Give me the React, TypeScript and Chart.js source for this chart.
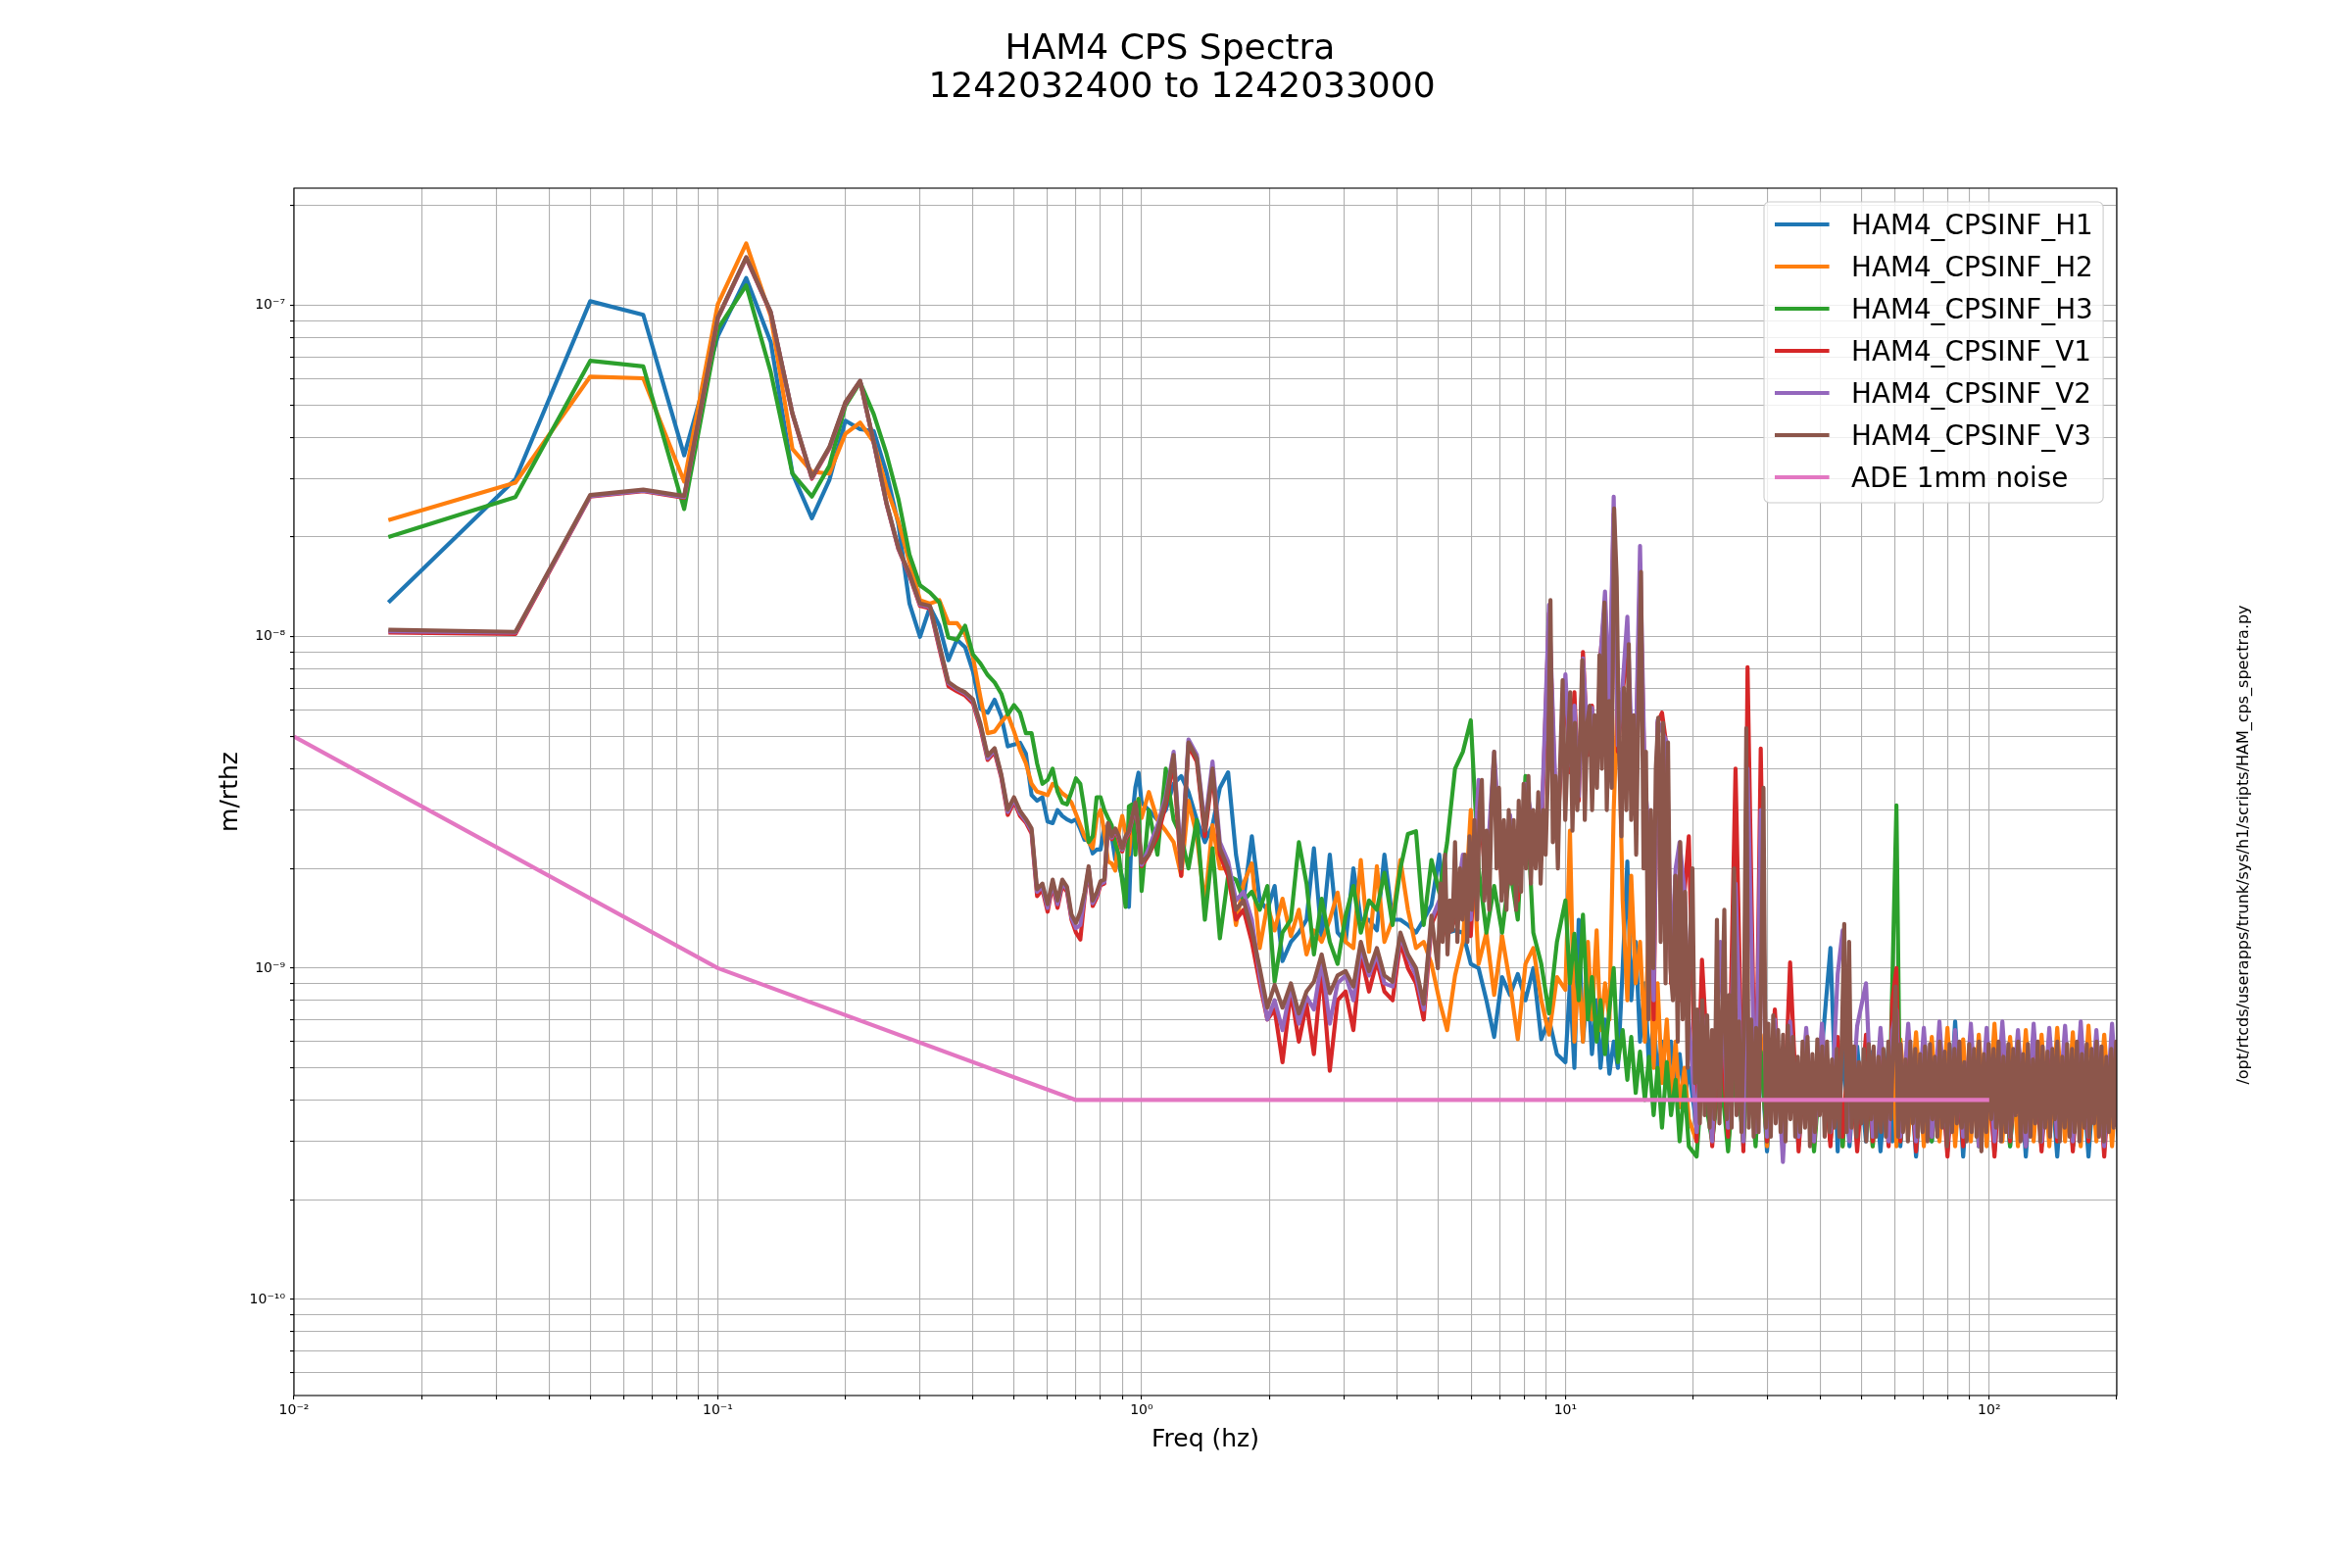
import React, { useEffect, useRef } from "react";
import { Chart, registerables } from "chart.js";

Chart.register(...registerables);

const FONT = '"DejaVu Sans", "Liberation Sans", sans-serif';

// ---------- text ----------
const TITLE_LINES = ["HAM4 CPS Spectra", "1242032400 to 1242033000"];
const X_LABEL = "Freq (hz)";
const Y_LABEL = "m/rthz";
const SIDE_TEXT = "/opt/rtcds/userapps/trunk/sys/h1/scripts/HAM_cps_spectra.py";
const SERIES_NAMES = [
  "HAM4_CPSINF_H1",
  "HAM4_CPSINF_H2",
  "HAM4_CPSINF_H3",
  "HAM4_CPSINF_V1",
  "HAM4_CPSINF_V2",
  "HAM4_CPSINF_V3",
  "ADE 1mm noise",
];
const SERIES_COLORS = ["#1f77b4", "#ff7f0e", "#2ca02c", "#d62728", "#9467bd", "#8c564b", "#e377c2"];

// ---------- axes ----------
const X_MIN = 0.01;
const X_MAX = 200;
const Y_MIN = 5.13e-11;
const Y_MAX = 2.26e-7;
const X_DECADES = [-2, -1, 0, 1, 2];
const X_TICK_LABELS = ["10\u207B\u00B2", "10\u207B\u00B9", "10\u2070", "10\u00B9", "10\u00B2"];
const Y_DECADES = [-11, -10, -9, -8, -7];
const Y_TICK_LABELS = ["10\u207B\u00B9\u00B9", "10\u207B\u00B9\u2070", "10\u207B\u2079", "10\u207B\u2078", "10\u207B\u2077"];
const MANTISSAS = [1, 2, 3, 4, 5, 6, 7, 8, 9];

// ---------- data (values in units of 1e-10 m/rthz) ----------
const UNIT = 1e-10;

const LF_FREQ = [
  0.0167, 0.0333, 0.05, 0.0667, 0.0833, 0.1, 0.1167, 0.1333, 0.15, 0.1667,
  0.1833, 0.2, 0.2167, 0.2333, 0.25, 0.2667, 0.2833, 0.3, 0.3167, 0.3333,
  0.35, 0.3667, 0.3833, 0.4, 0.4167, 0.4333, 0.45, 0.4667, 0.4833, 0.5,
  0.5167, 0.5333, 0.55, 0.5667, 0.5833, 0.6, 0.6167, 0.6333, 0.65, 0.6667,
  0.6833, 0.7, 0.7167, 0.7333, 0.75, 0.7667, 0.7833, 0.8, 0.8167, 0.8333,
  0.85, 0.8667, 0.8833, 0.9, 0.9167, 0.9333, 0.95, 0.9667, 0.9833, 1.0,
];

const MID_FREQ = [
  1.04, 1.09, 1.14, 1.19, 1.24, 1.29, 1.35, 1.41, 1.47, 1.53,
  1.6, 1.67, 1.74, 1.82, 1.9, 1.98, 2.06, 2.15, 2.25, 2.35,
  2.45, 2.55, 2.66, 2.78, 2.9, 3.03, 3.16, 3.29, 3.44, 3.59,
  3.74, 3.91, 4.08, 4.25, 4.44, 4.63, 4.83, 5.04, 5.26, 5.49,
  5.73, 5.98, 6.24, 6.51, 6.79, 7.09, 7.4, 7.72, 8.05, 8.4,
  8.77, 9.15, 9.55,
  10.0, 10.25, 10.5, 10.75, 11.0, 11.3, 11.55, 11.85, 12.1, 12.4,
  12.7, 13.0, 13.3, 13.65, 14.0, 14.3, 14.65, 15.0, 15.4, 15.75,
  16.15, 16.5, 16.9, 17.35, 17.75, 18.2, 18.6, 19.1, 19.55,
];

const HF_FREQ = [
  20.4, 21.0, 22.2, 23.2, 24.2, 25.2, 26.3, 26.9, 28.1, 28.9,
  29.9, 31.2, 32.6, 33.9, 35.5, 37.0, 38.6, 40.3, 42.2, 43.9,
  45.1, 46.8, 48.8, 51.2, 53.1, 55.4, 57.9, 59.1, 60.4, 61.7,
  64.4, 67.2, 70.1, 73.2, 76.3, 79.7, 83.1, 86.8, 90.5, 94.5,
  98.6, 102.9, 107.4, 112.0, 116.9, 122.0, 127.3, 132.9, 138.6, 144.7,
  151.0, 157.5, 164.4, 171.5, 179.0, 186.8, 194.9, 203,
];

// finer sampling used for V3 above 5 Hz (it is drawn on top and forms the dense band)
const DENSE_FREQ_V3 = [
  5.0, 5.07, 5.13, 5.2, 5.27, 5.34, 5.41, 5.49, 5.56, 5.64,
  5.71, 5.79, 5.87, 5.94, 6.02, 6.1, 6.19, 6.27, 6.35, 6.44,
  6.52, 6.61, 6.7, 6.79, 6.88, 6.97, 7.07, 7.16, 7.26, 7.35,
  7.45, 7.55, 7.65, 7.76, 7.86, 7.97, 8.07, 8.18, 8.29, 8.4,
  8.51, 8.63, 8.74, 8.86, 8.98, 9.1, 9.22, 9.34, 9.47, 9.6,
  9.72, 9.85, 9.99, 10.12, 10.26, 10.39, 10.53, 10.67, 10.82, 10.96,
  11.11, 11.26, 11.41, 11.56, 11.72, 11.87, 12.03, 12.19, 12.36, 12.52,
  12.69, 12.86, 13.03, 13.21, 13.38, 13.56, 13.74, 13.93, 14.11, 14.3,
  14.49, 14.69, 14.89, 15.08, 15.29, 15.49, 15.7, 15.91, 16.12, 16.34,
  16.56, 16.78, 17.0, 17.23, 17.46, 17.69, 17.93, 18.17, 18.41, 18.66,
  18.91, 19.16, 19.42, 19.68, 19.94, 20.21, 20.48, 20.76, 21.03, 21.31,
  21.6, 21.89, 22.18, 22.48, 22.78, 23.09, 23.4, 23.71, 24.03, 24.35,
  24.67, 25.0, 25.34, 25.68, 26.02, 26.37, 26.72, 27.08, 27.44, 27.81,
  28.18, 28.56, 28.94, 29.33, 29.72, 30.12, 30.52, 30.93, 31.34, 31.76,
  32.19, 32.62, 33.06, 33.5, 33.95, 34.4, 34.86, 35.33, 35.8, 36.28,
  36.77, 37.26, 37.76, 38.26, 38.78, 39.3, 39.82, 40.36, 40.9, 41.44,
  42.0, 42.56, 43.13, 43.71, 44.29, 44.89, 45.49, 46.1, 46.71, 47.34,
  47.97, 48.62, 49.27, 49.93, 50.6, 51.27, 51.96, 52.66, 53.36, 54.08,
  54.8, 55.53, 56.28, 57.03, 57.8, 58.57, 59.35, 60.15, 60.96, 61.77,
  62.6, 63.44, 64.29, 65.15, 66.02, 66.91, 67.8, 68.71, 69.63, 70.56,
  71.51, 72.47, 73.44, 74.42, 75.42, 76.43, 77.45, 78.49, 79.54, 80.61,
  81.69, 82.78, 83.89, 85.02, 86.16, 87.31, 88.48, 89.67, 90.87, 92.09,
  93.32, 94.57, 95.84, 97.12, 98.42, 99.74, 101.08, 102.43, 103.81, 105.2,
  106.61, 108.04, 109.48, 110.95, 112.44, 113.94, 115.47, 117.02, 118.59, 120.17,
  121.78, 123.42, 125.07, 126.75, 128.45, 130.17, 131.91, 133.68, 135.47, 137.29,
  139.13, 140.99, 142.88, 144.8, 146.74, 148.7, 150.7, 152.72, 154.76, 156.84,
  158.94, 161.07, 163.23, 165.41, 167.63, 169.88, 172.15, 174.46, 176.8, 179.17,
  181.57, 184.0, 186.47, 188.97, 191.5, 194.06, 196.66, 199.3, 201.97, 204.68,
];

// H1
const H1_LF = [
  127, 299, 1030, 937, 353, 807, 1210, 776, 311, 228,
  297, 449, 423, 418, 313, 219, 126, 100, 123, 108,
  85, 98, 93, 78.7, 60.6, 59, 64.6, 57.5, 46.7, 47.3,
  47.9, 44.4, 33.3, 32, 32.8, 27.7, 27.4, 30, 28.8, 28.1,
  27.7, 28.1, 26.3, 24.4, 24.4, 22.2, 22.8, 22.8, 26.7, 25.7,
  25, 21.3, 20.5, 18.8, 17.8, 15.3, 28.4, 35.1, 38.9, 31.6,
];
const H1_MID = [
  30, 28, 30, 36, 38, 34, 28, 24, 27, 35,
  39, 22, 16, 25, 16, 15, 17.7, 10.5, 12, 12.8,
  14, 23, 12.3, 22, 12.8, 12, 20, 14, 14, 13,
  22, 14, 14, 13.5, 12.8, 14, 15.5, 22, 12.8, 13,
  12.8, 10.3, 10, 8, 6.2, 9.4, 8.3, 9.6, 8, 10,
  6.1, 7, 5.5,
  5.2, 9, 5, 14, 6, 9, 5.5, 8, 5, 7,
  4.8, 6, 5, 10, 21, 8, 12, 6, 9, 5,
  7, 4.8, 6, 4.5, 6, 4.2, 5.5, 4, 5,
];
const H1_HF = [
  3.3, 5.5, 3.0, 5.8, 3.1, 5.9, 2.9, 6.0, 3.0, 5.7,
  2.8, 5.9, 3.0, 5.6, 2.9, 5.8, 3.0, 5.7, 11.5, 2.8,
  5.9, 2.9, 5.8, 3.0, 5.6, 2.8, 5.9, 3.0, 5.8, 2.9,
  5.9, 2.7, 5.7, 3.0, 5.8, 2.8, 6.9, 2.7, 5.9, 3.0,
  5.8, 2.8, 5.7, 2.9, 5.9, 2.7, 5.8, 3.0, 5.6, 2.7,
  5.9, 2.9, 5.8, 2.7, 5.7, 3.0, 5.8, 2.8,
];

// H2
const H2_LF = [
  225, 292, 610, 603, 294, 1010, 1540, 930, 369, 315,
  311, 410, 443, 387, 283, 223, 168, 129, 126, 129,
  110, 110, 102, 87, 65.5, 51.2, 51.8, 55.3, 58.3, 51.8,
  45.5, 41.5, 36, 34.1, 33.7, 33.3, 36, 35.1, 33.7, 32.9,
  31.6, 29.2, 27, 25, 24, 23, 28.4, 30, 25.7, 21,
  20.7, 19.7, 25.7, 28.8, 25.7, 22, 27.7, 30, 32.4, 28.4,
];
const H2_MID = [
  34, 28, 26, 24, 19, 32, 25, 15.5, 27, 20,
  20, 13.5, 18, 20.7, 11.5, 15.5, 13, 16.2, 12.5, 15,
  11, 13, 12, 14, 16.9, 12, 11.5, 21.2, 11.2, 20.3,
  12, 14, 21.2, 15, 11.5, 12, 10.3, 8, 6.5, 9.5,
  12, 30, 10.3, 12.8, 8.3, 12.5, 9, 6.1, 10.3, 11.5,
  8, 6.3, 9.4,
  8.6, 26, 6, 10, 6, 12, 7, 13, 6.5, 9,
  7, 30, 70, 16, 8, 19, 9, 12, 6, 14,
  5, 9, 4.5, 7, 4, 6, 3.8, 5, 3.5,
];
const H2_HF = [
  3.0, 6.4, 3.1, 6.2, 2.9, 6.5, 3.0, 6.0, 3.1, 6.3,
  2.9, 6.1, 3.0, 6.4, 3.1, 6.0, 2.9, 6.3, 3.0, 6.1,
  2.9, 6.4, 3.1, 6.0, 2.9, 6.2, 3.0, 6.3, 2.9, 6.1,
  3.1, 6.4, 2.9, 6.2, 3.0, 6.6, 2.9, 6.1, 3.0, 6.3,
  2.9, 6.8, 3.0, 6.2, 2.9, 6.5, 3.0, 6.3, 2.9, 6.6,
  3.0, 6.4, 2.9, 6.7, 3.0, 6.3, 2.9, 6.2,
];

// H3
const H3_LF = [
  200, 264, 681, 655, 243, 850, 1150, 630, 311, 265,
  328, 498, 586, 470, 357, 261, 177, 143, 136, 127,
  99.5, 98, 108, 88.5, 83, 76.7, 72.8, 67.3, 58.3, 62.2,
  59, 51.2, 51.2, 41.5, 36, 37, 40, 34.1, 31.6, 31.2,
  34.1, 37.4, 36, 30, 24, 25, 32.8, 32.8, 30, 28.4,
  27, 23.7, 22, 18.3, 15.3, 30.8, 31.2, 22, 32.4, 17.1,
];
const H3_MID = [
  30, 22, 40, 28, 25, 20, 28, 14, 23, 12.3,
  19, 18.5, 16, 17, 15, 17.7, 9.1, 12.8, 14, 24,
  18, 11, 16.2, 12, 10.3, 14.4, 17.7, 12.8, 16, 15,
  19.4, 13.5, 20, 25.4, 25.9, 13.5, 21.2, 16.9, 24, 40,
  45, 56, 20, 12.8, 17.7, 12.8, 20, 14, 38, 12.8,
  10.3, 7.3, 12,
  16, 9, 12.7, 8, 14.5, 7, 9.4, 6, 8, 5.5,
  7.5, 10, 5.2, 6.5, 4.6, 6.2, 4.2, 5.6, 4.0, 5.4,
  3.6, 5.0, 3.3, 5.2, 3.6, 4.6, 3.0, 4.4, 2.9,
];
const H3_HF = [
  2.7, 4.6, 3.0, 5.0, 2.8, 5.3, 3.0, 5.5, 2.9, 5.6,
  3.0, 5.7, 2.9, 5.8, 3.0, 5.9, 2.8, 5.7, 3.0, 5.9,
  2.9, 5.8, 3.0, 5.7, 2.9, 6.0, 3.0, 9.3, 31, 3.0,
  6.2, 2.9, 5.8, 3.0, 6.0, 2.9, 5.9, 3.0, 5.8, 2.9,
  6.0, 3.0, 5.9, 2.9, 6.1, 3.0, 5.8, 2.9, 6.0, 3.0,
  5.9, 2.9, 6.1, 3.0, 5.8, 2.9, 6.0, 3.0,
];

// V1
const V1_LF = [
  103, 102, 265, 275, 263, 915, 1390, 950, 470, 300,
  370, 505, 590, 385, 252, 184, 153, 124, 122, 92,
  71, 68.5, 66.5, 63, 53, 42.5, 44.8, 37.5, 29, 31.8,
  28.8, 27.5, 25.5, 16.5, 17.3, 14.8, 17.8, 15.2, 17.8, 17,
  14, 12.8, 12.2, 16.2, 19.8, 15.4, 16.3, 17.8, 18, 27,
  24.5, 26, 24.5, 22.5, 24.5, 25.5, 28, 31, 26, 20.3,
];
const V1_MID = [
  22, 25, 31, 42, 19, 47, 42, 25, 39, 22,
  19, 14, 15, 12, 9, 7, 7.5, 5.2, 8.5, 6,
  7.8, 5.5, 10, 4.9, 8, 8.5, 6.5, 11, 8.5, 10.5,
  8.5, 8, 12, 10, 9, 7, 13.5, 15.5, 12.5, 14,
  20, 12.5, 35, 17, 43, 17, 27, 16, 34, 25,
  24, 118, 24,
  72, 39, 68, 32, 90, 44, 62, 40, 88, 125,
  58, 235, 45, 68, 92, 48, 42, 150, 34, 24,
  7, 55, 59, 46, 9, 19, 8, 17, 25,
];
const V1_HF = [
  3.0, 10.6, 2.9, 7.0, 3.1, 40, 2.8, 81, 3.2, 46,
  3.0, 7.5, 2.9, 10.4, 2.8, 6.3, 3.0, 6.0, 2.9, 6.2,
  3.1, 6.0, 2.8, 6.3, 3.0, 5.9, 2.9, 8.0, 10.0, 3.0,
  6.2, 2.8, 6.0, 3.1, 5.8, 2.7, 6.1, 2.9, 6.3, 3.0,
  5.9, 2.7, 6.0, 3.0, 6.2, 2.9, 5.8, 2.8, 6.2, 3.0,
  6.0, 2.8, 5.9, 3.0, 6.1, 2.7, 6.0, 3.0,
];

// V2
const V2_LF = [
  104, 103, 266, 276, 264, 918, 1395, 955, 472, 302,
  372, 508, 592, 386, 253, 185, 154, 125, 123, 93.5,
  72.5, 69.5, 67.5, 64, 54, 43, 45.5, 38, 29.6, 32.3,
  29.3, 27.8, 26, 17, 17.6, 15.2, 18.1, 15.6, 18.1, 17.3,
  14.2, 13.2, 13.5, 16.5, 20, 15.7, 16.6, 18, 18.2, 27.2,
  24.8, 26.2, 24.8, 22.8, 24.8, 25.8, 28.3, 31.3, 26.2, 20.5,
];
const V2_MID = [
  23, 27, 33, 45, 21, 49, 44, 27, 42, 24,
  21, 16, 17, 14, 9.5, 7, 8, 6.5, 8.8, 6.8,
  8.2, 7.5, 10.5, 6.8, 9, 9.5, 8, 11.5, 9.5, 11,
  9, 8.8, 12.5, 10.8, 9.5, 7.5, 14, 16, 13, 15,
  22, 14, 37, 19, 45, 19, 29, 18, 36, 27,
  26, 125, 26,
  77, 41, 62, 33, 86, 47, 61, 41, 87, 137,
  62, 265, 47, 72, 115, 52, 44, 188, 36, 26,
  8, 56, 52, 48, 10, 20, 24, 17, 7,
];
const V2_HF = [
  3.2, 7.5, 3.0, 12, 3.3, 18, 3.0, 40, 3.2, 30,
  3.1, 7.0, 2.6, 6.9, 3.1, 6.6, 3.0, 6.8, 3.2, 9.6,
  13, 3.0, 6.7, 9.0, 3.1, 6.6, 3.0, 6.5, 7.5, 3.1,
  6.8, 3.0, 6.6, 3.1, 6.9, 3.0, 6.5, 3.1, 6.8, 2.9,
  6.6, 3.0, 6.9, 3.1, 6.5, 2.9, 6.8, 3.0, 6.6, 3.1,
  6.7, 3.0, 6.9, 3.1, 6.5, 2.9, 6.8, 3.0,
];

// V3
const V3_LF = [
  105, 103.5, 268, 278, 266, 920, 1400, 957, 473, 303,
  374, 511, 593, 387, 254, 186, 155, 126, 124, 94.4,
  73.1, 70, 68, 64.8, 54.6, 43.8, 46.1, 38.4, 30.1, 32.8,
  29.8, 28.2, 26.4, 17.3, 18, 15.6, 18.5, 16, 18.5, 17.6,
  14.5, 13.7, 14.8, 16.9, 20.3, 16, 16.9, 18.3, 18.5, 27.4,
  25, 26.4, 25, 23, 25, 26, 28.6, 31.6, 26.4, 20.8,
];
// V3 from 1.04 Hz up to 4.83 Hz (first 37 entries of MID_FREQ)
const V3_MID = [
  22, 26, 32, 44, 20, 48, 43, 26, 40, 23,
  20, 15, 16, 13, 10, 7.6, 8.9, 7.6, 9.0, 7.3,
  8.5, 9.1, 11, 8.4, 9.5, 9.8, 8.8, 12, 9.8, 11.5,
  9.5, 9.1, 12.8, 11, 10, 7.8, 14.4,
];
// V3 on DENSE_FREQ_V3 (5 Hz to 205 Hz)
const V3_DENSE = [
  10, 18, 12, 22, 11, 16, 13, 24, 12, 20,
  14, 22, 12, 25, 15, 28, 14, 30, 37, 16,
  26, 15, 32, 45, 20, 35, 16, 28, 15, 30,
  18, 28, 15, 32, 17, 36, 20, 38, 18, 30,
  20, 34, 18, 30, 22, 40, 129, 24, 38, 20,
  42, 74, 28, 45, 68, 26, 55, 30, 48, 85,
  28, 55, 62, 30, 58, 35, 88, 40, 127, 30,
  64, 35, 244, 150, 46, 25, 70, 30, 95, 28,
  58, 22, 70, 157, 20, 45, 7, 30, 10, 40,
  57, 12, 55, 9, 48, 10, 8, 19, 6, 24,
  7, 17, 5, 12, 20, 4.5, 7.5, 3.4, 8.0, 3.6,
  7.2, 3.3, 6.5, 3.5, 14, 3.4, 6.8, 15, 3.5, 8.3,
  3.3, 20, 3.6, 6.9, 3.2, 6.5, 53, 3.3, 7.0, 3.1,
  6.6, 3.2, 9.0, 35, 3.3, 6.8, 3.1, 7.2, 3.4, 6.5,
  3.2, 6.3, 3.0, 6.7, 3.5, 6.2, 3.1, 5.4, 3.2, 6.0,
  3.3, 6.2, 2.9, 5.5, 3.2, 6.1, 3.6, 5.8, 3.1, 6.0,
  3.2, 5.3, 3.3, 5.7, 3.1, 6.0, 13.6, 3.2, 12, 3.3,
  5.8, 3.1, 5.2, 3.4, 5.7, 3.0, 5.9, 3.5, 5.8, 3.1,
  5.4, 3.2, 5.7, 3.1, 6.0, 3.5, 5.8, 8.8, 3.1, 5.9,
  3.2, 5.3, 3.0, 6.0, 3.4, 5.7, 3.1, 5.5, 3.2, 5.8,
  3.0, 5.9, 3.5, 5.4, 3.1, 6.0, 3.3, 5.6, 2.9, 5.9,
  3.2, 5.7, 3.4, 6.0, 3.3, 5.2, 3.0, 5.9, 3.2, 5.7,
  3.1, 6.0, 2.8, 5.5, 3.2, 5.9, 3.5, 5.7, 3.3, 6.0,
  3.0, 5.4, 3.2, 5.9, 3.1, 5.7, 3.6, 6.0, 3.0, 5.5,
  3.2, 5.9, 3.1, 5.3, 3.4, 6.0, 3.0, 5.8, 3.3, 5.6,
  3.1, 5.7, 3.5, 6.0, 3.0, 5.4, 3.3, 5.9, 3.1, 5.7,
  3.2, 6.0, 3.0, 5.5, 3.3, 5.9, 3.1, 5.7, 3.4, 6.0,
  3.1, 5.8, 3.0, 5.4, 3.2, 5.7, 3.3, 6.0, 3.1, 5.8,
];

// ADE 1mm noise model (m/rthz)
const ADE_FREQ = [0.01, 0.1, 0.7, 100];
const ADE_VALUE = [5e-9, 1e-9, 4e-10, 4e-10];

// ---------- helpers ----------
type Pt = { x: number; y: number };
function joinParts(parts: Array<[number[], number[]]>, scale: number): Pt[] {
  const out: Pt[] = [];
  for (const [fs, vs] of parts) {
    const n = Math.min(fs.length, vs.length);
    for (let i = 0; i < n; i++) out.push({ x: fs[i], y: vs[i] * scale });
  }
  return out;
}

const SERIES_DATA: Pt[][] = [
  joinParts([[LF_FREQ, H1_LF], [MID_FREQ, H1_MID], [HF_FREQ, H1_HF]], UNIT),
  joinParts([[LF_FREQ, H2_LF], [MID_FREQ, H2_MID], [HF_FREQ, H2_HF]], UNIT),
  joinParts([[LF_FREQ, H3_LF], [MID_FREQ, H3_MID], [HF_FREQ, H3_HF]], UNIT),
  joinParts([[LF_FREQ, V1_LF], [MID_FREQ, V1_MID], [HF_FREQ, V1_HF]], UNIT),
  joinParts([[LF_FREQ, V2_LF], [MID_FREQ, V2_MID], [HF_FREQ, V2_HF]], UNIT),
  joinParts([[LF_FREQ, V3_LF], [MID_FREQ, V3_MID], [DENSE_FREQ_V3, V3_DENSE]], UNIT),
  joinParts([[ADE_FREQ, ADE_VALUE]], 1),
];

const X_TICKS = X_DECADES.flatMap((e) => MANTISSAS.map((m) => m * Math.pow(10, e))).filter(
  (v) => v >= X_MIN * 0.999 && v <= X_MAX * 1.001
);
const Y_TICKS = Y_DECADES.flatMap((e) => MANTISSAS.map((m) => m * Math.pow(10, e))).filter(
  (v) => v >= Y_MIN && v <= Y_MAX
);

function decadeLabel(v: number, decades: number[], labels: string[]): string {
  const l = Math.log10(v);
  for (let i = 0; i < decades.length; i++) {
    if (Math.abs(l - decades[i]) < 1e-6) return labels[i];
  }
  return "";
}

const LINE_WIDTH = 4.17;

// ---------- matplotlib-like decorations ----------
const decorPlugin = {
  id: "mplDecor",
  afterDraw(chart: any) {
    const ctx: CanvasRenderingContext2D = chart.ctx;
    const a = chart.chartArea;
    ctx.save();

    // axes frame
    ctx.strokeStyle = "#000";
    ctx.lineWidth = 1.1;
    ctx.strokeRect(a.left, a.top, a.right - a.left, a.bottom - a.top);

    // legend
    const fs = 27.8;
    const lx = 1800;
    const ly = 206;
    const lw = a.right - 13.9 - lx;
    const lh = 307;
    ctx.beginPath();
    (ctx as any).roundRect(lx, ly, lw, lh, 5.5);
    ctx.fillStyle = "rgba(255,255,255,0.8)";
    ctx.fill();
    ctx.strokeStyle = "#cccccc";
    ctx.lineWidth = 1.1;
    ctx.stroke();
    ctx.font = `${fs}px ${FONT}`;
    ctx.textAlign = "left";
    ctx.textBaseline = "alphabetic";
    for (let i = 0; i < SERIES_NAMES.length; i++) {
      const cy = 229 + 43 * i;
      ctx.strokeStyle = SERIES_COLORS[i];
      ctx.lineWidth = LINE_WIDTH;
      ctx.beginPath();
      ctx.moveTo(lx + 11, cy);
      ctx.lineTo(lx + 11 + 55.6, cy);
      ctx.stroke();
      ctx.fillStyle = "#000";
      ctx.fillText(SERIES_NAMES[i], lx + 89, cy + 10.1);
    }

    // title
    ctx.fillStyle = "#000";
    ctx.textAlign = "center";
    ctx.font = `36px ${FONT}`;
    ctx.fillText(TITLE_LINES[0], 1194, 60);
    ctx.fillText(TITLE_LINES[1], 1206, 98.5);

    // x label
    ctx.font = `25px ${FONT}`;
    ctx.fillText(X_LABEL, (a.left + a.right) / 2, 1476);

    // y label
    ctx.save();
    ctx.translate(242, (a.top + a.bottom) / 2);
    ctx.rotate(-Math.PI / 2);
    ctx.fillText(Y_LABEL, 0, 0);
    ctx.restore();

    // side text
    ctx.save();
    ctx.font = `16px ${FONT}`;
    ctx.translate(2294, 862);
    ctx.rotate(-Math.PI / 2);
    ctx.fillText(SIDE_TEXT, 0, 0);
    ctx.restore();

    ctx.restore();
  },
};

export default function App() {
  const canvasRef = useRef<HTMLCanvasElement | null>(null);

  useEffect(() => {
    const canvas = canvasRef.current;
    if (!canvas) return;
    const orders = [6, 5, 4, 3, 2, 1, 0];
    const chart = new Chart(canvas, {
      type: "line",
      data: {
        datasets: SERIES_DATA.map((pts, i) => ({
          label: SERIES_NAMES[i],
          data: pts,
          borderColor: SERIES_COLORS[i],
          backgroundColor: SERIES_COLORS[i],
          borderWidth: LINE_WIDTH,
          pointRadius: 0,
          pointHoverRadius: 0,
          tension: 0,
          fill: false,
          borderJoinStyle: "round",
          order: orders[i],
          clip: 0,
        })) as any,
      },
      options: {
        animation: false,
        responsive: false,
        devicePixelRatio: 1,
        parsing: false,
        normalized: true,
        events: [],
        layout: { padding: { left: 0, right: 240, top: 192, bottom: 0 } },
        plugins: {
          legend: { display: false },
          title: { display: false },
          tooltip: { enabled: false },
        },
        scales: {
          x: {
            type: "logarithmic",
            min: X_MIN,
            max: X_MAX,
            afterBuildTicks: (s: any) => {
              s.ticks = X_TICKS.map((v) => ({ value: v }));
            },
            afterFit: (s: any) => {
              s.height = 176;
            },
            ticks: {
              autoSkip: false,
              maxRotation: 0,
              minRotation: 0,
              padding: 3,
              color: "#000",
              font: { family: FONT, size: 14 },
              callback: (v: any) => decadeLabel(Number(v), X_DECADES, X_TICK_LABELS),
            },
            grid: {
              color: "#b0b0b0",
              lineWidth: 1.1,
              drawTicks: true,
              tickLength: 4,
              tickColor: "#000",
              tickWidth: 1.1,
            },
            border: { display: false },
          },
          y: {
            type: "logarithmic",
            min: Y_MIN,
            max: Y_MAX,
            afterBuildTicks: (s: any) => {
              s.ticks = Y_TICKS.map((v) => ({ value: v }));
            },
            afterFit: (s: any) => {
              s.width = 300;
            },
            ticks: {
              autoSkip: false,
              padding: 5,
              color: "#000",
              font: { family: FONT, size: 14 },
              callback: (v: any) => decadeLabel(Number(v), Y_DECADES, Y_TICK_LABELS),
            },
            grid: {
              color: "#b0b0b0",
              lineWidth: 1.1,
              drawTicks: true,
              tickLength: 4,
              tickColor: "#000",
              tickWidth: 1.1,
            },
            border: { display: false },
          },
        },
      } as any,
      plugins: [decorPlugin as any],
    });
    return () => chart.destroy();
  }, []);

  return (
    <div style={{ position: "absolute", left: 0, top: 0, width: 2400, height: 1600, background: "#fff" }}>
      <canvas
        ref={canvasRef}
        width={2400}
        height={1600}
        style={{ display: "block", width: 2400, height: 1600 }}
      />
    </div>
  );
}
